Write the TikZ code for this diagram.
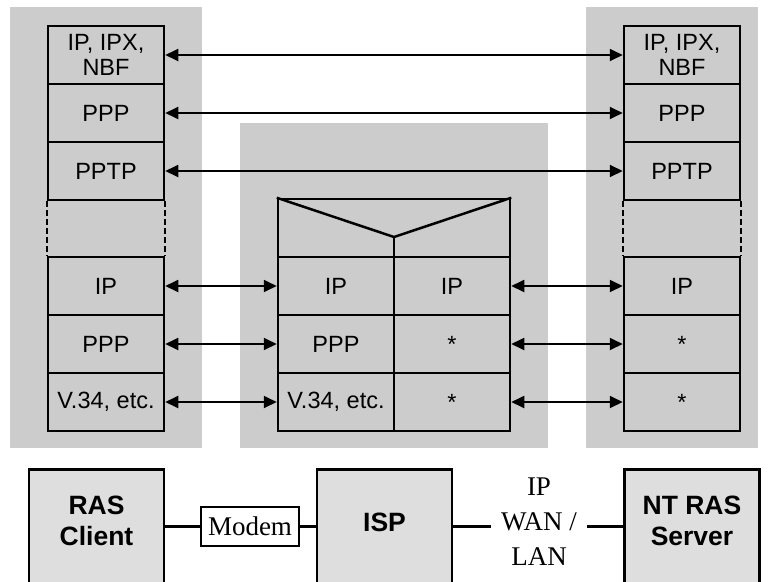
\documentclass[tikz,border=0pt]{standalone}
\usepackage{fontspec}
\setmainfont{Liberation Sans}
\newfontfamily\serifface{Liberation Serif}
\usetikzlibrary{shapes,arrows.meta}

\begin{document}
\begin{tikzpicture}[x=1pt, y=-1pt]

\tikzstyle{every node} = [font=\fontsize{23.5}{25}\selectfont, align=center]
\tikzstyle{layer} = [rectangle, draw, line width=2.5pt, minimum width=116pt, minimum height=58pt, inner sep=0pt]
\tikzstyle{host} = [rectangle, draw, line width=2.5pt, fill=black!13, minimum width=135pt, minimum height=140pt, anchor=north]
\tikzstyle{hostname} = [font=\fontsize{26.5}{31}\selectfont\bfseries]
\tikzstyle{peer} = [{Triangle[length=13pt,width=12pt]}-{Triangle[length=13pt,width=12pt]}, line width=1.8pt]
\tikzstyle{gap} = [line width=2pt, dash pattern=on 6pt off 3pt]
\tikzstyle{wire} = [line width=2.2pt]

\useasboundingbox (0,0) rectangle (768,581);
\clip (0,0) rectangle (768,581);

% gray panels
\fill[gray!40] (10,7) rectangle (202,448);
\fill[gray!40] (240,123) rectangle (548,448);
\fill[gray!40] (586,7) rectangle (758,448);

% client stack
\node[layer] (l1) at (106,55) {IP, IPX,\\NBF};
\node[layer] (l2) at (106,113) {PPP};
\node[layer] (l3) at (106,171) {PPTP};
\node[layer] (l4) at (106,286) {IP};
\node[layer] (l5) at (106,344) {PPP};
\node[layer] (l6) at (106,402) {V.34, etc.};
\draw[gap] (l3.south west) -- (l4.north west);
\draw[gap] (l3.south east) -- (l4.north east);

% server stack
\node[layer] (r1) at (682,55) {IP, IPX,\\NBF};
\node[layer] (r2) at (682,113) {PPP};
\node[layer] (r3) at (682,171) {PPTP};
\node[layer] (r4) at (682,286) {IP};
\node[layer] (r5) at (682,344) {*};
\node[layer] (r6) at (682,402) {*};
\draw[gap] (r3.south west) -- (r4.north west);
\draw[gap] (r3.south east) -- (r4.north east);

% isp stack
\node[layer, minimum width=232pt] (h) at (394,228) {};
\coordinate (v) at (394,237);
\draw[line width=2.5pt] (h.north west) -- (v) -- (h.north east);
\draw[line width=2.5pt] (v) -- (h.south);
\node[layer] (a1) at (336,286) {IP};
\node[layer] (a2) at (336,344) {PPP};
\node[layer] (a3) at (336,402) {V.34, etc.};
\node[layer] (b1) at (452,286) {IP};
\node[layer] (b2) at (452,344) {*};
\node[layer] (b3) at (452,402) {*};

\draw[peer] (l1) -- (r1);
\draw[peer] (l2) -- (r2);
\draw[peer] (l3) -- (r3);
\draw[peer] (l4) -- (a1);
\draw[peer] (l5) -- (a2);
\draw[peer] (l6) -- (a3);
\draw[peer] (b1) -- (r4);
\draw[peer] (b2) -- (r5);
\draw[peer] (b3) -- (r6);

% hosts
\node[host] (client) at (96.5,468) {};
\node[host] (isp) at (384.5,468) {};
\node[host] (server) at (692,468) {};
\node[hostname] (clientname) at (96.5,521) {RAS\\Client};
\node[hostname] (ispname) at (384.5,522) {ISP};
\node[hostname] (servername) at (692,521) {NT RAS\\Server};

\node[draw, fill=white, line width=2pt, font=\serifface\fontsize{27}{30}\selectfont, minimum width=98pt, minimum height=39pt, inner sep=0pt] (modem) at (250,526.5) {Modem};
\node[font=\serifface\fontsize{27}{35}\selectfont, inner xsep=10pt] (wan) at (539,522) {IP\\WAN /\\LAN};

\draw[wire] (modem.west) -- (modem.west -| client.east);
\draw[wire] (modem.east) -- (modem.east -| isp.west);
\draw[wire] (modem -| wan.west) -- (modem -| isp.east);
\draw[wire] (modem -| wan.east) -- (modem -| server.west);
\end{tikzpicture}
\end{document}
